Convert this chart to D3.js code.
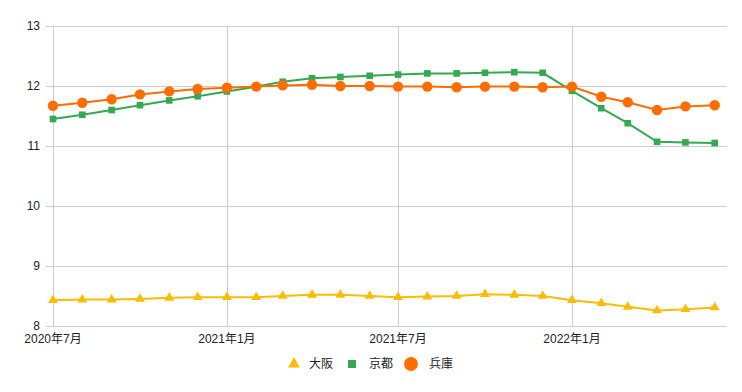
<!DOCTYPE html>
<html>
<head>
<meta charset="utf-8">
<script src="https://cdnjs.cloudflare.com/ajax/libs/d3/7.8.5/d3.min.js"></script>
<style>
body { margin: 0; background: #fff; }
svg { font-family: "Liberation Sans", Arial, "Noto Sans CJK JP", sans-serif; }
</style>
</head>
<body>
<svg width="742" height="392"></svg>
<script>
// monthly, 2020-07 .. 2022-06
var months = ["2020-07","2020-08","2020-09","2020-10","2020-11","2020-12",
              "2021-01","2021-02","2021-03","2021-04","2021-05","2021-06",
              "2021-07","2021-08","2021-09","2021-10","2021-11","2021-12",
              "2022-01","2022-02","2022-03","2022-04","2022-05","2022-06"];
var osaka = [8.43,8.44,8.44,8.45,8.47,8.48,8.48,8.48,8.50,8.52,8.52,8.50,
             8.48,8.49,8.50,8.53,8.52,8.50,8.43,8.38,8.32,8.26,8.28,8.31];
var kyoto = [11.45,11.52,11.60,11.68,11.76,11.83,11.91,11.99,12.07,12.13,12.15,12.17,
             12.19,12.21,12.21,12.22,12.23,12.22,11.92,11.63,11.38,11.07,11.06,11.05];
var hyogo = [11.67,11.72,11.78,11.86,11.91,11.95,11.97,11.99,12.01,12.02,12.00,12.00,
             11.99,11.99,11.98,11.99,11.99,11.98,11.99,11.82,11.73,11.60,11.66,11.68];
var yTicks = [8, 9, 10, 11, 12, 13];
var xTicks = ["2020-07","2021-01","2021-07","2022-01"];

var series = [
  {name: "大阪", values: osaka, color: "#fbbc04", shape: "triangle"},
  {name: "京都", values: kyoto, color: "#34a853", shape: "square"},
  {name: "兵庫", values: hyogo, color: "#ff6d01", shape: "circle"}
];

var parse = d3.timeParse("%Y-%m");
var svg = d3.select("svg");

var x = d3.scaleTime()
  .domain([parse("2020-07"), new Date(2022, 5, 14)])
  .range([53, 727]);
var y = d3.scaleLinear().domain([8, 13]).range([326, 26]);

// gridlines
svg.append("g").selectAll("line.h")
  .data(yTicks).enter().append("line")
  .attr("x1", 46).attr("x2", 727)
  .attr("y1", function(d){ return y(d) + 0.5; })
  .attr("y2", function(d){ return y(d) + 0.5; })
  .attr("stroke", "#cccccc");

svg.append("g").selectAll("line.v")
  .data(xTicks).enter().append("line")
  .attr("x1", function(d){ return Math.round(x(parse(d))) + 0.5; })
  .attr("x2", function(d){ return Math.round(x(parse(d))) + 0.5; })
  .attr("y1", 26).attr("y2", 326)
  .attr("stroke", "#cccccc");

// axis labels
svg.append("g").selectAll("text")
  .data(yTicks).enter().append("text")
  .attr("x", 40).attr("y", function(d){ return y(d) + 4; })
  .attr("text-anchor", "end")
  .attr("font-size", 12).attr("fill", "#222")
  .text(function(d){ return d; });

var fmt = function(s){ var d = parse(s); return d.getFullYear() + "年" + (d.getMonth() + 1) + "月"; };
svg.append("g").selectAll("text")
  .data(xTicks).enter().append("text")
  .attr("x", function(d){ return x(parse(d)); })
  .attr("y", 343)
  .attr("text-anchor", "middle")
  .attr("font-size", 12).attr("fill", "#222")
  .text(fmt);

var symbols = {
  triangle: d3.symbol().type(d3.symbolTriangle).size(42),
  square: d3.symbol().type(d3.symbolSquare).size(44),
  circle: d3.symbol().type(d3.symbolCircle).size(85)
};

var line = d3.line()
  .x(function(d, i){ return x(parse(months[i])); })
  .y(function(d){ return y(d); });

series.forEach(function(s){
  var g = svg.append("g");
  g.append("path")
    .attr("d", line(s.values))
    .attr("fill", "none")
    .attr("stroke", s.color)
    .attr("stroke-width", 2);
  g.selectAll("path.pt")
    .data(s.values).enter().append("path")
    .attr("class", "pt")
    .attr("d", symbols[s.shape])
    .attr("transform", function(d, i){
      return "translate(" + x(parse(months[i])) + "," + y(d) + ")";
    })
    .attr("fill", s.color);
});

// legend
var legendPos = [{sx: 294, tx: 309}, {sx: 352, tx: 369}, {sx: 411, tx: 429}];
var legendSym = {
  triangle: d3.symbol().type(d3.symbolTriangle).size(60),
  square: d3.symbol().type(d3.symbolSquare).size(64),
  circle: d3.symbol().type(d3.symbolCircle).size(150)
};
var lg = svg.append("g");
series.forEach(function(s, i){
  lg.append("path")
    .attr("d", legendSym[s.shape])
    .attr("transform", "translate(" + legendPos[i].sx + ",364)")
    .attr("fill", s.color);
  lg.append("text")
    .attr("x", legendPos[i].tx).attr("y", 368)
    .attr("font-size", 12).attr("fill", "#222")
    .text(s.name);
});
</script>
</body>
</html>
